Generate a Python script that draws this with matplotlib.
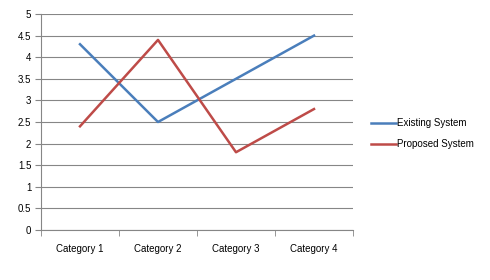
import matplotlib
matplotlib.use("Agg")
import matplotlib.pyplot as plt

categories = ["Category 1", "Category 2", "Category 3", "Category 4"]
existing = [4.3, 2.5, 3.5, 4.5]
proposed = [2.4, 4.4, 1.8, 2.8]
yticks = [0, 0.5, 1, 1.5, 2, 2.5, 3, 3.5, 4, 4.5, 5]
ylabels = ["0", "0.5", "1", "1.5", "2", "2.5", "3", "3.5", "4", "4.5", "5"]

plt.rcParams['font.family'] = ['Liberation Sans', 'DejaVu Sans']
fig = plt.figure(figsize=(4.9, 2.8), dpi=100)
ax = fig.add_axes([41/490, 1-230/280, (353-41)/490, (230-14)/280])

x = list(range(len(categories)))
ax.plot(x, existing, color="#4A7EBB", lw=1.8, label="Existing System")
ax.plot(x, proposed, color="#BE4B48", lw=1.8, label="Proposed System")

ax.set_xlim(-0.5, 3.5)
ax.set_ylim(0, 5)
ax.set_yticks(yticks)
ax.set_yticklabels(ylabels, fontsize=7)
ax.set_xticks(x)
ax.set_xticklabels(categories, fontsize=7)
ax.tick_params(axis='x', length=0, pad=10)
ax.tick_params(axis='y', length=4, color="#868686", pad=3)
ax.set_xticks([-0.5, 0.5, 1.5, 2.5, 3.5], minor=True)
ax.tick_params(axis='x', which='minor', length=4, color="#868686")
ax.grid(axis='y', color="#868686", lw=0.8)
ax.set_axisbelow(True)
for s in ["top", "right"]:
    ax.spines[s].set_visible(False)
ax.spines["left"].set_color("#868686")
ax.spines["bottom"].set_color("#868686")

ax.legend(loc="center left", bbox_to_anchor=(366/490, 1-133.5/280), bbox_transform=fig.transFigure,
          frameon=False, fontsize=7, handlelength=2.6, handletextpad=0.1, labelspacing=1.15,
          borderpad=0)

fig.savefig("out.png", dpi=100)
